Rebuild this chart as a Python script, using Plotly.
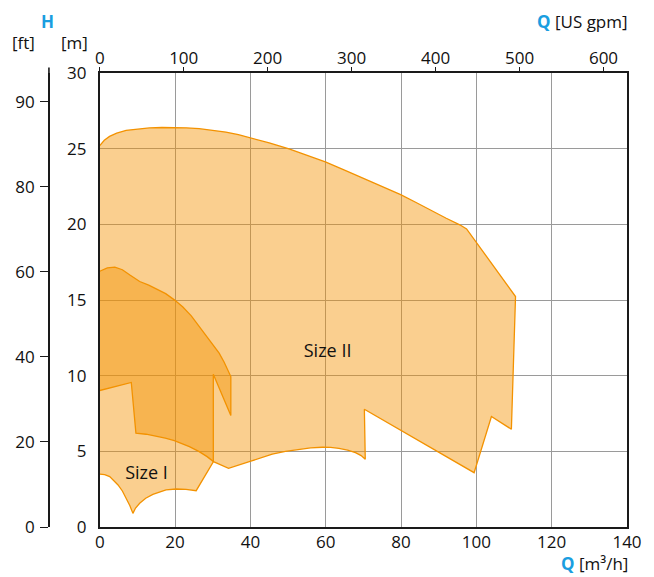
import plotly.graph_objects as go

# ---- data (Q in m3/h, H in m) ----
size2_q = [0, 1.2, 2.6, 4.5, 7.0, 10.0, 13.2, 16.5, 19.8, 23.0, 26.4, 30.0, 33.5, 36.8, 40.1, 45.0,
           50.25, 55.0, 59.9, 65.0, 70.5, 75.0, 79.9, 84.0, 88.1, 92.0, 95.6, 97.4,
           110.4, 109.3, 104.0, 99.4, 70.26, 70.5,
           69.4, 67.9, 65.8, 63.5, 61.3, 59.1, 56.0, 52.9, 49.3, 45.8, 42.7, 39.7, 34.2, 30.2,
           28.5, 26.4, 23.8, 21.8, 19.8, 17.4, 15.0, 12.3, 9.6, 8.37, 0]
size2_h = [25.2, 25.55, 25.81, 26.02, 26.21, 26.31, 26.37, 26.4, 26.41, 26.38, 26.32, 26.23, 26.1, 25.92, 25.71, 25.38,
           24.98, 24.57, 24.12, 23.58, 23.0, 22.5, 21.96, 21.44, 20.9, 20.4, 19.97, 19.7,
           15.23, 6.46, 7.3, 3.59, 7.78, 4.48,
           4.72, 4.91, 5.08, 5.2, 5.26, 5.27, 5.23, 5.14, 5.0, 4.81, 4.58, 4.32, 3.88, 4.32,
           4.65, 4.98, 5.31, 5.52, 5.71, 5.88, 6.02, 6.13, 6.2, 9.55, 9.02]

size1_q = [0, 2.0, 4.0, 6.0, 8.0, 10.6, 13.0, 15.0, 17.5, 19.8, 22.0, 24.3, 26.4, 28.2, 30.0, 31.7,
           33.0, 34.0, 34.8,
           34.8, 30.15, 30.15, 25.6,
           22.9, 20.3, 17.6, 14.1, 12.2, 10.6, 9.5, 8.8, 8.0, 7.05, 6.0, 4.85, 3.7, 2.64, 1.3, 0]
size1_h = [16.9, 17.12, 17.17, 17.0, 16.65, 16.22, 15.98, 15.75, 15.42, 15.01, 14.55, 13.95, 13.25, 12.7, 12.08, 11.49,
           10.9, 10.4, 9.94,
           7.36, 10.1, 4.3, 2.4,
           2.49, 2.51, 2.45, 2.16, 1.9, 1.57, 1.25, 0.9, 1.4, 1.9, 2.38, 2.78, 3.1, 3.33, 3.46, 3.5]

region_labels = ["Size II", "Size I"]
label_q = [60.5, 12.4]
label_h = [11.5, 3.5]

q_m3h_ticks = [0, 20, 40, 60, 80, 100, 120, 140]
h_m_ticks = [0, 5, 10, 15, 20, 25, 30]
q_gpm_ticks = [0, 100, 200, 300, 400, 500, 600]
q_gpm_max = 628
h_ft_tickvals = [0, 20, 40, 60, 80, 100]
h_ft_ticktext = ["0", "20", "40", "60", "80", "90"]
h_ft_max = 106.75

# ---- layout helpers (page pixels; body margin removed below) ----
W, H = 654, 577
L, R, T, B = 30, 25, 73, 50
PW, PH = W - L - R, H - T - B


def fx(px):
    return (px - L) / PW


def fy(py):
    return (H - B - py) / PH


FONT = "Open Sans"
BLUE = "#1a9ee0"
ORANGE = "#f39200"
FILL = "rgba(243,146,0,0.44)"
AX = "#1a1a1a"
GRID = "#9a9a9a"
xdom = [fx(100), 1]

fig = go.Figure()
fig.add_trace(go.Scatter(x=size2_q, y=size2_h, fill="toself", fillcolor=FILL,
                         line=dict(color=ORANGE, width=1.3), mode="lines",
                         hoverinfo="skip", showlegend=False))
fig.add_trace(go.Scatter(x=size1_q, y=size1_h, fill="toself", fillcolor=FILL,
                         line=dict(color=ORANGE, width=1.3), mode="lines",
                         hoverinfo="skip", showlegend=False))
fig.add_trace(go.Scatter(x=label_q, y=label_h, text=region_labels, mode="text",
                         textfont=dict(family=FONT, size=18, color="#111"),
                         hoverinfo="skip", showlegend=False))
# helper trace so the secondary axes are rendered
fig.add_trace(go.Scatter(x=[None], y=[None], xaxis="x2", yaxis="y2",
                         hoverinfo="skip", showlegend=False))

tickfont = dict(family=FONT, size=17, color="#111")

fig.update_layout(
    width=W, height=H,
    margin=dict(l=L, r=R, t=T, b=B, pad=0),
    paper_bgcolor="white", plot_bgcolor="white",
    xaxis=dict(domain=xdom, range=[0, 140], tickvals=q_m3h_ticks,
               showgrid=True, gridcolor=GRID, gridwidth=1,
               showline=True, linecolor=AX, linewidth=1.6, mirror=True,
               ticks="", ticklabelstandoff=-1, tickfont=tickfont, zeroline=False,
               layer="above traces"),
    xaxis2=dict(domain=xdom, overlaying="x", side="top", anchor="y",
                range=[0, q_gpm_max], tickvals=q_gpm_ticks,
                showgrid=False, showline=False, zeroline=False,
                ticks="outside", ticklen=5, tickwidth=1.4, tickcolor=AX,
                ticklabelstandoff=-4, tickfont=tickfont),
    yaxis=dict(range=[0, 30], tickvals=h_m_ticks,
               showgrid=True, gridcolor=GRID, gridwidth=1,
               showline=True, linecolor=AX, linewidth=1.6, mirror=True,
               ticks="", ticklabelstandoff=8, tickfont=tickfont, zeroline=False,
               layer="above traces"),
    yaxis2=dict(overlaying="y", anchor="free", position=fx(49), side="left",
                range=[0, h_ft_max], tickvals=h_ft_tickvals, ticktext=h_ft_ticktext,
                showgrid=False, zeroline=False,
                showline=True, linecolor=AX, linewidth=1.6,
                ticks="outside", ticklen=8, tickwidth=1.4, tickcolor=AX,
                ticklabelstandoff=2, tickfont=tickfont),
)

# small extension of the ft axis line above the plot frame
fig.add_shape(type="line", xref="paper", yref="paper",
              x0=fx(49), x1=fx(49), y0=fy(67.5), y1=fy(74),
              line=dict(color=AX, width=1.6))

ann_font = dict(family=FONT, size=17, color="#111")
fig.add_annotation(x=fx(47.5), y=fy(21), xref="paper", yref="paper", text="<b>H</b>",
                   showarrow=False, font=dict(family=FONT, size=17, color=BLUE),
                   xanchor="center", yanchor="middle")
fig.add_annotation(x=fx(23), y=fy(43), xref="paper", yref="paper", text="[ft]",
                   showarrow=False, font=ann_font, xanchor="center", yanchor="middle")
fig.add_annotation(x=fx(75), y=fy(43), xref="paper", yref="paper", text="[m]",
                   showarrow=False, font=ann_font, xanchor="center", yanchor="middle")
fig.add_annotation(x=fx(632), y=fy(21), xref="paper", yref="paper",
                   text=f"<b><span style='color:{BLUE}'>Q</span></b> [US gpm]",
                   showarrow=False, font=ann_font, xanchor="right", yanchor="middle")
fig.add_annotation(x=fx(632), y=fy(563), xref="paper", yref="paper",
                   text=f"<b><span style='color:{BLUE}'>Q</span></b> [m³/h]",
                   showarrow=False, font=ann_font, xanchor="right", yanchor="middle")

fig.write_html("out.html", config={"displayModeBar": False},
               post_script="document.body.style.margin='0';document.body.style.padding='0';")
